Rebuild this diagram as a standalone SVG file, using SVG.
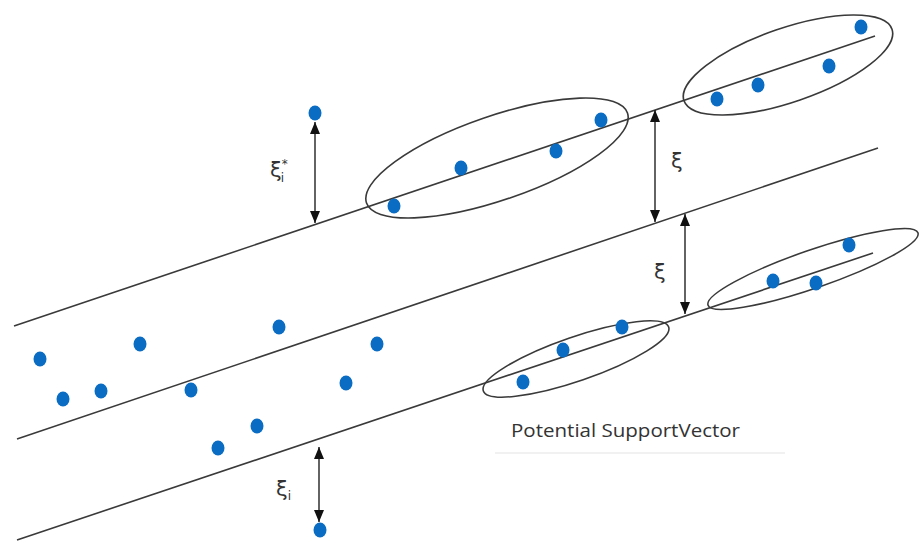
<svg xmlns="http://www.w3.org/2000/svg" width="922" height="542" viewBox="0 0 922 542">
<defs>
<style>
.ln{stroke:#3a3a3a;stroke-width:1.6;fill:none}
.el{stroke:#3a3a3a;stroke-width:1.6;fill:none}
.dt{fill:#0a6cc2}
.ar{stroke:#222;stroke-width:1.4;fill:none}
.lb{font-family:"DejaVu Sans","Noto Sans",sans-serif;fill:#333}
.cap{font-family:"Open Sans","Liberation Sans",sans-serif;fill:#333;font-size:18px}
</style>
<marker id="ah" viewBox="0 0 12 10" refX="12" refY="5" markerWidth="12" markerHeight="10" markerUnits="userSpaceOnUse" orient="auto-start-reverse">
<path d="M0,0 L12,5 L0,10 Z" fill="#111"/>
</marker>
</defs>
<rect width="922" height="542" fill="#fff"/>
<g id="connectors">
<g id="margin-lines">
<line class="ln" x1="14" y1="326" x2="875" y2="36"/>
<line class="ln" x1="17" y1="439" x2="878" y2="148"/>
<line class="ln" x1="17" y1="540" x2="873" y2="253"/>
</g>
<g id="arrows">
<line class="ar" x1="315" y1="122" x2="315" y2="223" marker-start="url(#ah)" marker-end="url(#ah)"/>
<line class="ar" x1="655" y1="110" x2="655" y2="222" marker-start="url(#ah)" marker-end="url(#ah)"/>
<line class="ar" x1="685" y1="214" x2="685" y2="314" marker-start="url(#ah)" marker-end="url(#ah)"/>
<line class="ar" x1="319" y1="447" x2="319" y2="522" marker-start="url(#ah)" marker-end="url(#ah)"/>
</g>
</g>
<g id="ellipse-top-mid"><ellipse class="el" cx="497" cy="158" rx="138" ry="42" transform="rotate(-19 497 158)"/></g>
<g id="ellipse-top-right"><ellipse class="el" cx="788" cy="65" rx="110" ry="37" transform="rotate(-19 788 65)"/></g>
<g id="ellipse-low-right"><ellipse class="el" cx="813" cy="269" rx="111" ry="19" transform="rotate(-19 813 269)"/></g>
<g id="ellipse-low-mid"><ellipse class="el" cx="576" cy="359" rx="98" ry="22" transform="rotate(-19 576 359)"/></g>
<g id="points">
<ellipse class="dt" cx="315" cy="113" rx="6.5" ry="7.5"/>
<ellipse class="dt" cx="394" cy="206" rx="6.5" ry="7.5"/>
<ellipse class="dt" cx="461" cy="168" rx="6.5" ry="7.5"/>
<ellipse class="dt" cx="556" cy="151" rx="6.5" ry="7.5"/>
<ellipse class="dt" cx="601" cy="120" rx="6.5" ry="7.5"/>
<ellipse class="dt" cx="717" cy="99" rx="6.5" ry="7.5"/>
<ellipse class="dt" cx="758" cy="85" rx="6.5" ry="7.5"/>
<ellipse class="dt" cx="829" cy="66" rx="6.5" ry="7.5"/>
<ellipse class="dt" cx="861" cy="27" rx="6.5" ry="7.5"/>
<ellipse class="dt" cx="773" cy="281" rx="6.5" ry="7.5"/>
<ellipse class="dt" cx="816" cy="283" rx="6.5" ry="7.5"/>
<ellipse class="dt" cx="849" cy="245" rx="6.5" ry="7.5"/>
<ellipse class="dt" cx="523" cy="382" rx="6.5" ry="7.5"/>
<ellipse class="dt" cx="563" cy="350" rx="6.5" ry="7.5"/>
<ellipse class="dt" cx="622" cy="327" rx="6.5" ry="7.5"/>
<ellipse class="dt" cx="40" cy="359" rx="6.5" ry="7.5"/>
<ellipse class="dt" cx="63" cy="399" rx="6.5" ry="7.5"/>
<ellipse class="dt" cx="101" cy="391" rx="6.5" ry="7.5"/>
<ellipse class="dt" cx="140" cy="344" rx="6.5" ry="7.5"/>
<ellipse class="dt" cx="191" cy="390" rx="6.5" ry="7.5"/>
<ellipse class="dt" cx="279" cy="327" rx="6.5" ry="7.5"/>
<ellipse class="dt" cx="377" cy="344" rx="6.5" ry="7.5"/>
<ellipse class="dt" cx="346" cy="383" rx="6.5" ry="7.5"/>
<ellipse class="dt" cx="257" cy="426" rx="6.5" ry="7.5"/>
<ellipse class="dt" cx="218" cy="448" rx="6.5" ry="7.5"/>
<ellipse class="dt" cx="320" cy="530" rx="6.5" ry="7.5"/>
</g>
<g id="labels">
<text class="lb" x="270" y="177" font-size="21">ξ<tspan font-size="12" dy="-9">*</tspan><tspan font-size="12" dx="-7" dy="14">i</tspan></text>
<text class="lb" x="671" y="168" font-size="21">ξ</text>
<text class="lb" x="654" y="279" font-size="21">ξ</text>
<text class="lb" x="276" y="496" font-size="21">ξ<tspan font-size="12" dy="4">i</tspan></text>
</g>
<g id="caption">
<text class="cap" x="511" y="437" textLength="229" lengthAdjust="spacingAndGlyphs">Potential SupportVector</text>
<line x1="495" y1="453" x2="785" y2="453" stroke="#ececec" stroke-width="1.5"/>
</g>
</svg>
